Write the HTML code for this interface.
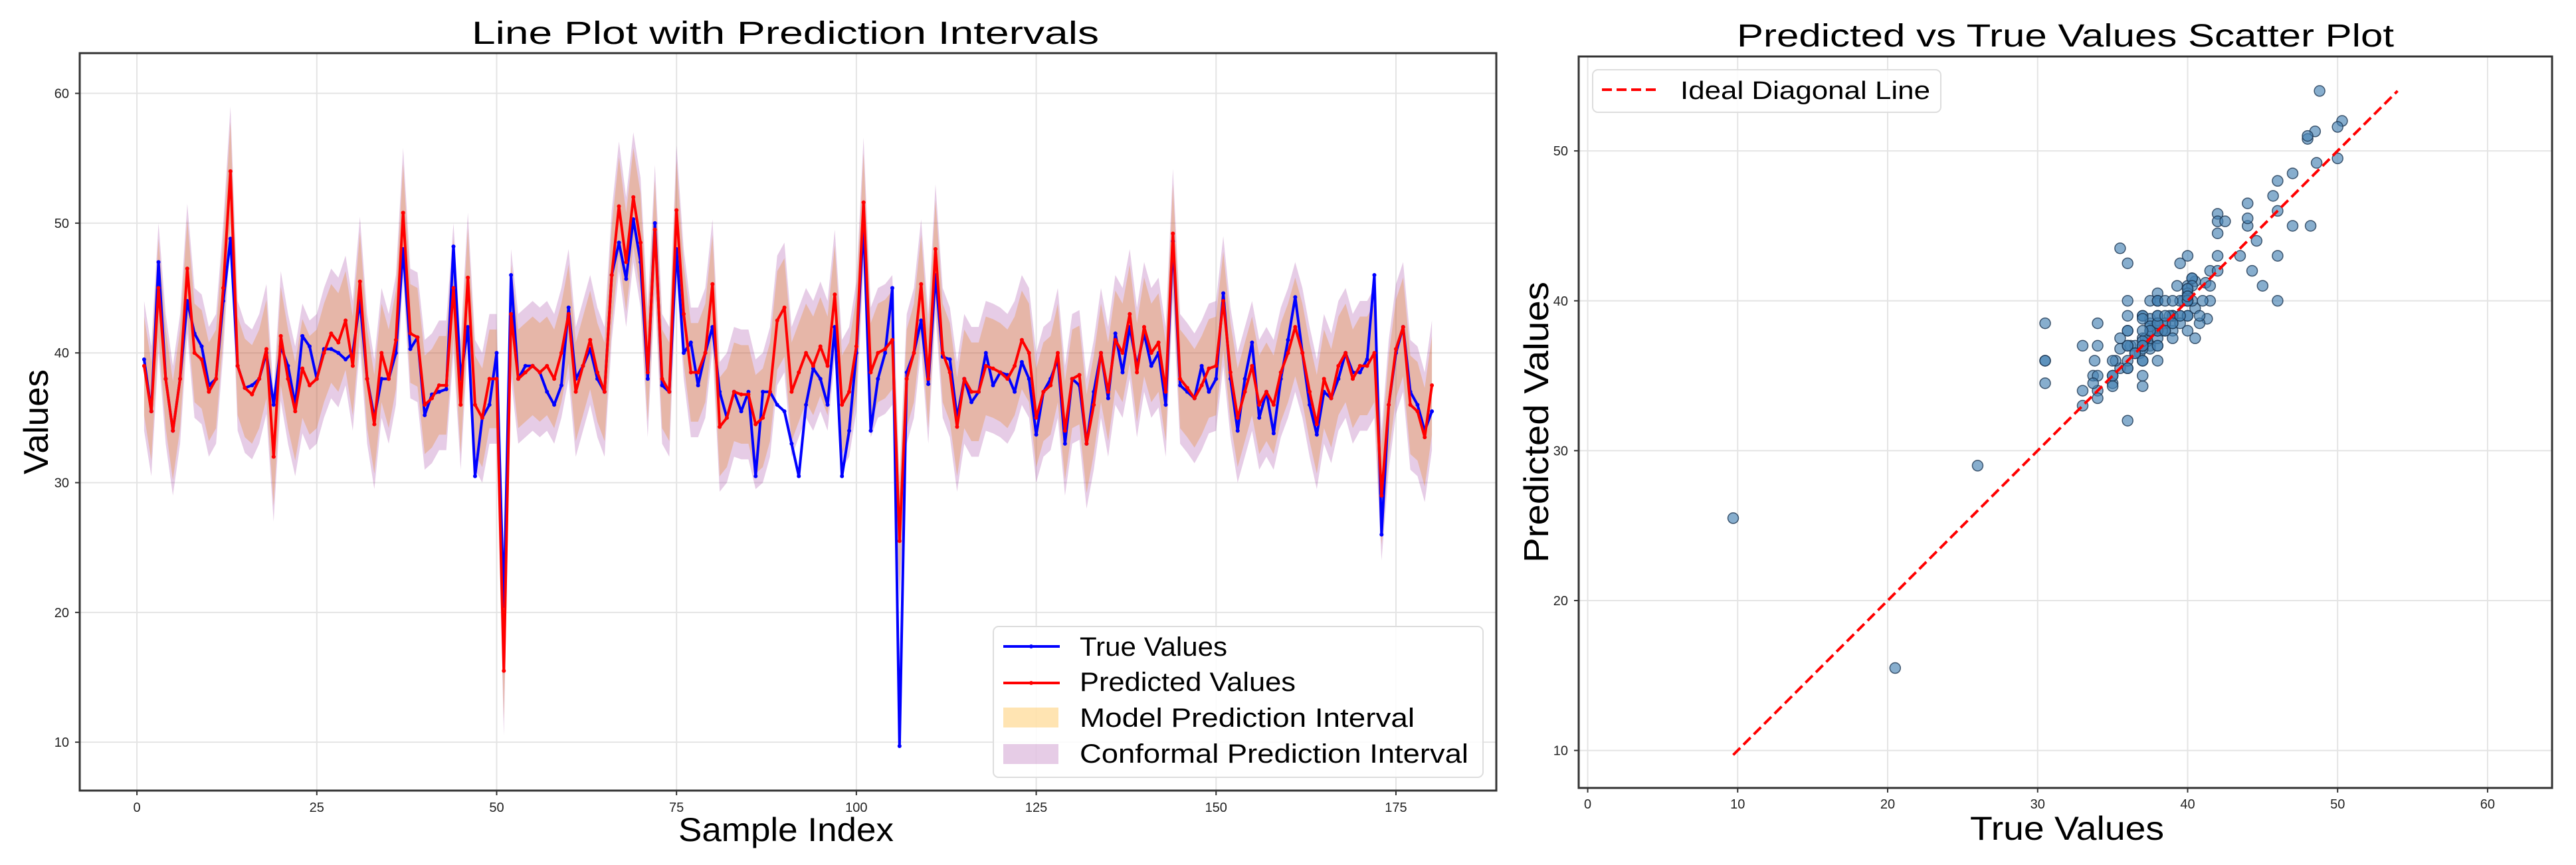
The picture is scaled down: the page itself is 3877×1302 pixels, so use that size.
<!DOCTYPE html>
<html><head><meta charset="utf-8"><style>
html,body{margin:0;padding:0;background:#fff;}
svg{display:block;}
</style></head><body>
<svg id="fig" xmlns="http://www.w3.org/2000/svg" width="3877" height="1302" viewBox="0 0 3877 1302" font-family="'Liberation Sans', sans-serif">
<rect x="0" y="0" width="3877" height="1302" fill="#fff"/>
<g id="left"></g>
<g id="right"></g>
<text x="710" y="66" font-size="48" textLength="944" lengthAdjust="spacingAndGlyphs">Line Plot with Prediction Intervals</text>
<text x="2614" y="70" font-size="48" textLength="989" lengthAdjust="spacingAndGlyphs">Predicted vs True Values Scatter Plot</text>
<text x="1021" y="1266" font-size="50" textLength="324" lengthAdjust="spacingAndGlyphs">Sample Index</text>
<text x="2965" y="1264" font-size="50" textLength="292" lengthAdjust="spacingAndGlyphs">True Values</text>
<text transform="translate(72,714) rotate(-90)" font-size="52" textLength="158" lengthAdjust="spacingAndGlyphs">Values</text>
<text transform="translate(2330,847) rotate(-90)" font-size="52" textLength="423" lengthAdjust="spacingAndGlyphs">Predicted Values</text>
</svg>
<script>
const trueVals = [39.5,35.5,47,38,34,38,44,41.5,40.5,37.5,38,44,48.8,39,37.3,37.5,38,40,36,40.5,39,36,41.3,40.5,38,40.3,40.3,40,39.5,40,44,38,35,38,38,40,48,40.3,41.2,35.2,36.8,37,37.2,48.2,38,42,30.5,35,36,40,20.5,46,38,39,39,38.5,37,36,37.5,43.5,38,39,40.3,38,37,46,48.5,45.7,50.3,47,38,50,37.5,37,48,40,40.8,37.5,40,42,37,35,37,35.5,37,30.5,37,37,36,35.5,33,30.5,36,38.8,38,36,42,30.5,34,40,50,34,38,40,45,9.7,38.5,40,42.5,37.6,46,39.7,39.5,35,38,36.2,37,40,37.5,38.5,38.3,37,39.3,38,33.7,37,38,39.5,33,38,37.5,33,37,40,36.5,41.5,38.5,42,39,41.5,39,40,36,48.6,37.5,37,36.5,39,37,38,44.6,38,34,38,40.8,35,37,33.8,38,41,44.3,40,36,33.7,37,36.5,38,40,38.5,38.5,39.5,46,26,36,40,42,37,36,34,35.5];
const predVals = [39,35.5,45,38,34,38,46.5,40,39.5,37,38,45,54,39,37.3,36.8,38,40.3,32,41.3,38,35.5,38.8,37.5,38,40,41.5,40.8,42.5,39,45.5,38,34.5,40,38,41,50.8,41.5,41.2,36,36.5,37.5,37.5,45,36,45.8,36,35,38,38,15.5,43,38,38.5,39,38.5,39,38,40,43,37,39,41,38.5,37,46,51.3,47,52,48.5,38.5,49.5,38,37,51,43,38.5,38.5,40,45.3,34.3,35,37,36.8,36.8,34.5,35,37,42.5,43.5,37,38.5,40,39,40.5,39,44.5,36,37,40.5,51.6,38.5,40,40.3,41,25.5,38,40,45.3,38,48,40,38.5,34.3,38,37,37,39,38.8,38.5,38,39,41,40,35,37,37.5,40,34,38,38.3,33,36,40,37,41,40,43,38.5,42,40,40.8,37,49.2,38,37.3,36.5,37.5,38.8,39,44,38.5,35,37,39,36,37,36,38.5,40,42,40,37,34.5,38,36.5,39,40,38,39,39,40,29,36,40.3,42,36,35.5,33.5,37.5];
const modelHalfWidth = 3.8;
const conformalHalfWidth = 5.0;
const leftXTicks = [0,25,50,75,100,125,150,175];
const leftYTicks = [10,20,30,40,50,60];
const rightXTicks = [0,10,20,30,40,50,60];
const rightYTicks = [10,20,30,40,50];
const diagRange = [9.7, 54];

const NS='http://www.w3.org/2000/svg';
function mk(parent,tag,attrs,text){const e=document.createElementNS(NS,tag);for(const k in attrs)e.setAttribute(k,attrs[k]);if(text!==undefined)e.textContent=text;parent.appendChild(e);return e;}

const L={x0:120,x1:2252,y0:80,y1:1190,xmin:-7.95,xmax:188.95,ymin:6.27,ymax:63.1};
const lx=v=>L.x0+(v-L.xmin)/(L.xmax-L.xmin)*(L.x1-L.x0);
const ly=v=>L.y1-(v-L.ymin)/(L.ymax-L.ymin)*(L.y1-L.y0);
const left=document.getElementById('left');
leftXTicks.forEach(t=>{
  const g=mk(left,'line',{x1:lx(t),x2:lx(t),y1:L.y0,y2:L.y1,stroke:'#e4e4e4','stroke-width':2});
  
  
  const tk=mk(left,'line',{x1:lx(t),x2:lx(t),y1:L.y1,y2:L.y1+7,stroke:'#333','stroke-width':2});
  
  
  const lb=mk(left,'text',{x:lx(t),y:1222,'font-size':20,'text-anchor':'middle',fill:'#222'},String(t));
  
  
});
leftYTicks.forEach(t=>{
  const g=mk(left,'line',{x1:L.x0,x2:L.x1,y1:ly(t),y2:ly(t),stroke:'#e4e4e4','stroke-width':2});
  
  
  const tk=mk(left,'line',{x1:L.x0-7,x2:L.x0,y1:ly(t),y2:ly(t),stroke:'#333','stroke-width':2});
  
  
  const lb=mk(left,'text',{x:104,y:ly(t)+7,'font-size':20,'text-anchor':'end',fill:'#222'},String(t));
  
  
});
function band(hw,fill,op,name){
  let up=[],dn=[];
  predVals.forEach((p,i)=>{up.push(lx(i+1)+','+ly(p+hw));dn.unshift(lx(i+1)+','+ly(p-hw));});
  const e=mk(left,'polygon',{points:up.concat(dn).join(' '),fill:fill,'fill-opacity':op});
  
  
}
band(modelHalfWidth,'#FFA500',0.3,'model-prediction-interval');
band(conformalHalfWidth,'#800080',0.2,'conformal-prediction-interval');
function series(vals,color,name){
  const pts=vals.map((v,i)=>lx(i+1)+','+ly(v)).join(' ');
  const e=mk(left,'polyline',{points:pts,fill:'none',stroke:color,'stroke-width':4,'stroke-linejoin':'round'});
  
  
  vals.forEach((v,i)=>{
    const c=mk(left,'circle',{cx:lx(i+1),cy:ly(v),r:3,fill:color});
    
    
  });
}
series(trueVals,'#0000ff','true-values-line');
series(predVals,'#ff0000','predicted-values-line');
const lf=mk(left,'rect',{x:L.x0,y:L.y0,width:L.x1-L.x0,height:L.y1-L.y0,fill:'none',stroke:'#333','stroke-width':3});


const lg=mk(left,'g',{});


mk(lg,'rect',{x:1495,y:943,width:737,height:227,rx:8,fill:'#fff','fill-opacity':0.85,stroke:'#ddd','stroke-width':2});
const legItems=[['True Values',987,222],['Predicted Values',1040,325],['Model Prediction Interval',1094,504],['Conformal Prediction Interval',1148,585]];
mk(lg,'line',{x1:1510,x2:1595,y1:973,y2:973,stroke:'#0000ff','stroke-width':4});
mk(lg,'circle',{cx:1552,cy:973,r:3,fill:'#0000ff'});
mk(lg,'line',{x1:1510,x2:1595,y1:1028,y2:1028,stroke:'#ff0000','stroke-width':4});
mk(lg,'circle',{cx:1552,cy:1028,r:3,fill:'#ff0000'});
mk(lg,'rect',{x:1510,y:1065,width:83,height:30,fill:'#FFA500','fill-opacity':0.3});
mk(lg,'rect',{x:1510,y:1120,width:83,height:30,fill:'#800080','fill-opacity':0.2});
legItems.forEach(it=>{
  const t=mk(lg,'text',{x:1625,y:it[1],'font-size':40,textLength:it[2],lengthAdjust:'spacingAndGlyphs',fill:'#000'},it[0]);
  
  
});

const R={x0:2376,x1:3841,y0:85,y1:1186,xmin:-0.6,xmax:64.3,ymin:7.5,ymax:56.3};
const rx=v=>R.x0+(v-R.xmin)/(R.xmax-R.xmin)*(R.x1-R.x0);
const ry=v=>R.y1-(v-R.ymin)/(R.ymax-R.ymin)*(R.y1-R.y0);
const right=document.getElementById('right');
rightXTicks.forEach(t=>{
  const g=mk(right,'line',{x1:rx(t),x2:rx(t),y1:R.y0,y2:R.y1,stroke:'#e4e4e4','stroke-width':2});
  
  
  const tk=mk(right,'line',{x1:rx(t),x2:rx(t),y1:R.y1,y2:R.y1+7,stroke:'#333','stroke-width':2});
  
  
  const lb=mk(right,'text',{x:rx(t),y:1217,'font-size':20,'text-anchor':'middle',fill:'#222'},String(t));
  
  
});
rightYTicks.forEach(t=>{
  const g=mk(right,'line',{x1:R.x0,x2:R.x1,y1:ry(t),y2:ry(t),stroke:'#e4e4e4','stroke-width':2});
  
  
  const tk=mk(right,'line',{x1:R.x0-7,x2:R.x0,y1:ry(t),y2:ry(t),stroke:'#333','stroke-width':2});
  
  
  const lb=mk(right,'text',{x:2360,y:ry(t)+7,'font-size':20,'text-anchor':'end',fill:'#222'},String(t));
  
  
});
trueVals.forEach((tv,i)=>{
  const c=mk(right,'circle',{cx:rx(tv),cy:ry(predVals[i]),r:8,fill:'#4682B4','fill-opacity':0.65,stroke:'#1c3550','stroke-width':1.5,'stroke-opacity':0.8});
  
  
});
const dl=mk(right,'line',{x1:rx(diagRange[0]),y1:ry(diagRange[0]),x2:rx(diagRange[1]),y2:ry(diagRange[1]),stroke:'#ff0000','stroke-width':4,'stroke-dasharray':'15,7'});


const rf=mk(right,'rect',{x:R.x0,y:R.y0,width:R.x1-R.x0,height:R.y1-R.y0,fill:'none',stroke:'#333','stroke-width':3});


const rl=mk(right,'g',{});


mk(rl,'rect',{x:2397,y:105,width:524,height:64,rx:8,fill:'#fff','fill-opacity':0.85,stroke:'#ddd','stroke-width':2});
mk(rl,'line',{x1:2411,x2:2494,y1:135,y2:135,stroke:'#ff0000','stroke-width':4,'stroke-dasharray':'15,7'});
const rlt=mk(rl,'text',{x:2529,y:149,'font-size':38,textLength:376,lengthAdjust:'spacingAndGlyphs',fill:'#000'},'Ideal Diagonal Line');


</script>
</body></html>
